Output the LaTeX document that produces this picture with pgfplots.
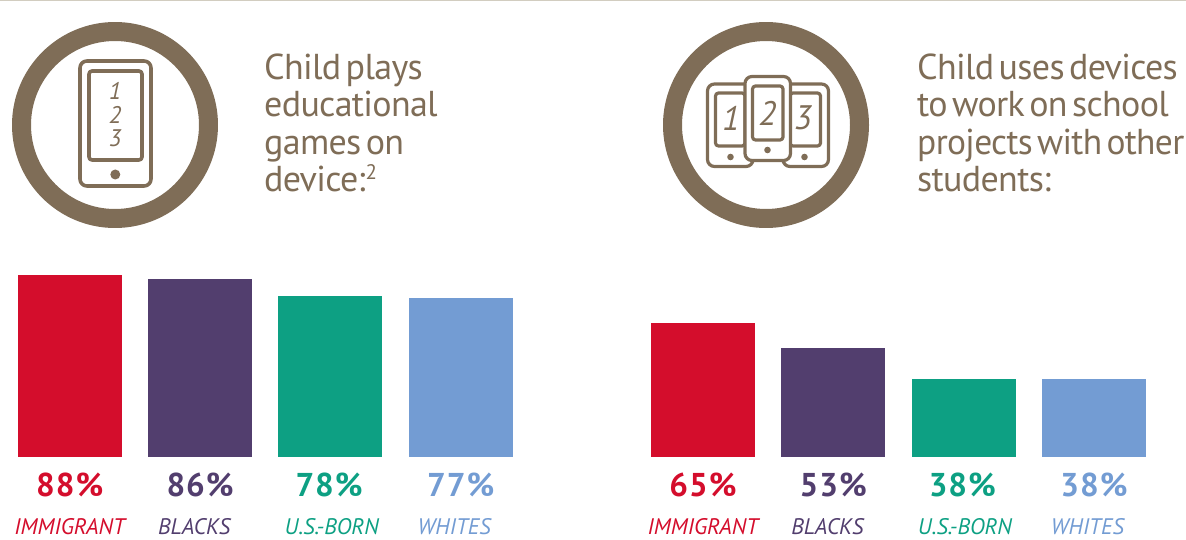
\documentclass[border=0pt]{standalone}
\usepackage{fontspec}
\usepackage{graphicx}
\usepackage{pgfplots}
\pgfplotsset{compat=1.18}
\setmainfont{PT Sans}
\newfontfamily\headfont[LetterSpace=-1.9,WordSpace=0.5]{PT Sans}
\newfontfamily\valfont[LetterSpace=3]{PT Sans}
\definecolor{taupe}{HTML}{7F6D57}
\definecolor{rule}{HTML}{D2CDC0}
\definecolor{cimm}{HTML}{D40D2C}
\definecolor{cblk}{HTML}{523E6E}
\definecolor{cusb}{HTML}{0DA083}
\definecolor{cwht}{HTML}{739CD3}
\pgfplotsset{
  panel/.style={
    hide axis, scale only axis, clip=false,
    width=521.3pt, height=206.5pt,
    xmin=-0.5, xmax=3.5, ymin=0, ymax=100,
    ybar, bar width=104pt, bar shift=0pt,
  },
}
\tikzset{
  valtext/.style={font=\valfont\bfseries\fontsize{33}{33}\selectfont, anchor=base, inner sep=0pt},
  cattext/.style={font=\itshape\fontsize{22.5}{22.5}\selectfont, anchor=base, inner sep=0pt},
}
\newcommand{\panelbars}[4]{%
  \addplot[fill=cimm,draw=none] coordinates {(0,#1)};
  \addplot[fill=cblk,draw=none] coordinates {(1,#2)};
  \addplot[fill=cusb,draw=none] coordinates {(2,#3)};
  \addplot[fill=cwht,draw=none] coordinates {(3,#4)};
  \node[valtext,text=cimm] at (axis cs:0,-19) {#1\%};
  \node[valtext,text=cblk] at (axis cs:1,-19) {#2\%};
  \node[valtext,text=cusb] at (axis cs:1.99,-19) {#3\%};
  \node[valtext,text=cwht] at (axis cs:3,-19) {#4\%};
  \node[cattext,text=cimm] at (axis cs:0,-37.4) {IMMIGRANT};
  \node[cattext,text=cblk] at (axis cs:0.955,-37.4) {BLACKS};
  \node[cattext,text=cusb] at (axis cs:2.01,-37.4) {U.S.-BORN};
  \node[cattext,text=cwht] at (axis cs:2.95,-37.4) {WHITES};
}
\begin{document}
\begin{tikzpicture}[x=1pt,y=1pt]
\useasboundingbox (0,0) rectangle (1186,539);
\fill[rule] (0,537.5) rectangle (1186,539);

\begin{axis}[panel, at={(4.6pt,82pt)}, anchor=south west]
  \panelbars{88}{86}{78}{77}
\end{axis}
\begin{axis}[panel, at={(637.8pt,82pt)}, anchor=south west]
  \panelbars{65}{53}{38}{38}
\end{axis}

% icons and headings, in a top-down coordinate frame
\begin{scope}[shift={(0,539)},y=-1pt,line join=round]
  \draw[taupe,line width=19pt] (115,125) circle[radius=93.5];
  \draw[taupe,line width=3.6pt,rounded corners=7pt] (80,61) rectangle (151,186);
  \draw[taupe,line width=3.6pt,rounded corners=3pt] (89,71) rectangle (142,160);
  \fill[taupe] (115.3,174.5) circle[radius=5];
  \foreach \d/\yy in {1/91,2/115,3/138}
    \node[text=taupe,font=\itshape\fontsize{24}{24}\selectfont] at (115,\yy) {\d};

  \draw[taupe,line width=19pt] (766,125) circle[radius=93.5];
  \draw[taupe,line width=3.2pt,rounded corners=7pt] (707.5,84) rectangle (753,166.5);
  \draw[taupe,line width=3.2pt,rounded corners=3pt] (715.5,93) rectangle (745,146);
  \fill[taupe] (730.5,157) circle[radius=3.3];
  \draw[taupe,line width=3.2pt,rounded corners=7pt] (783,84) rectangle (828.5,166.5);
  \draw[taupe,line width=3.2pt,rounded corners=3pt] (790,93) rectangle (820.5,146);
  \fill[taupe] (804.5,157) circle[radius=3.3];
  \draw[taupe,fill=white,line width=3.2pt,rounded corners=7pt] (745,76.5) rectangle (790.5,160.5);
  \draw[taupe,line width=3.2pt,rounded corners=3pt] (752.5,86) rectangle (783,140);
  \fill[taupe] (767.5,150) circle[radius=3.3];
  \node[text=taupe,font=\itshape\fontsize{34}{34}\selectfont] at (731,118) {1};
  \node[text=taupe,font=\itshape\fontsize{34}{34}\selectfont] at (767.5,113) {2};
  \node[text=taupe,font=\itshape\fontsize{34}{34}\selectfont] at (803,118) {3};

  \foreach \t/\yy in {Child plays/80,educational/117,games on/155}
    \node[anchor=base west,inner sep=0pt,text=taupe,font=\headfont\fontsize{36}{36}\selectfont] at (264,\yy) {\t};
  \node[anchor=base west,inner sep=0pt,text=taupe,font=\headfont\fontsize{36}{36}\selectfont] at (264,192) {device:\raisebox{12pt}{\fontsize{21}{21}\selectfont 2}};
  \foreach \t/\yy in {Child uses devices/80,to work on school/117,students:/192}
    \node[anchor=base west,inner sep=0pt,text=taupe,font=\headfont\fontsize{36}{36}\selectfont] at (917,\yy) {\t};
  \node[anchor=base west,inner sep=0pt,text=taupe,font=\headfont\fontsize{36}{36}\selectfont] at (917,155) {\scalebox{0.985}[1]{projects with other}};
\end{scope}
\end{tikzpicture}
\end{document}
